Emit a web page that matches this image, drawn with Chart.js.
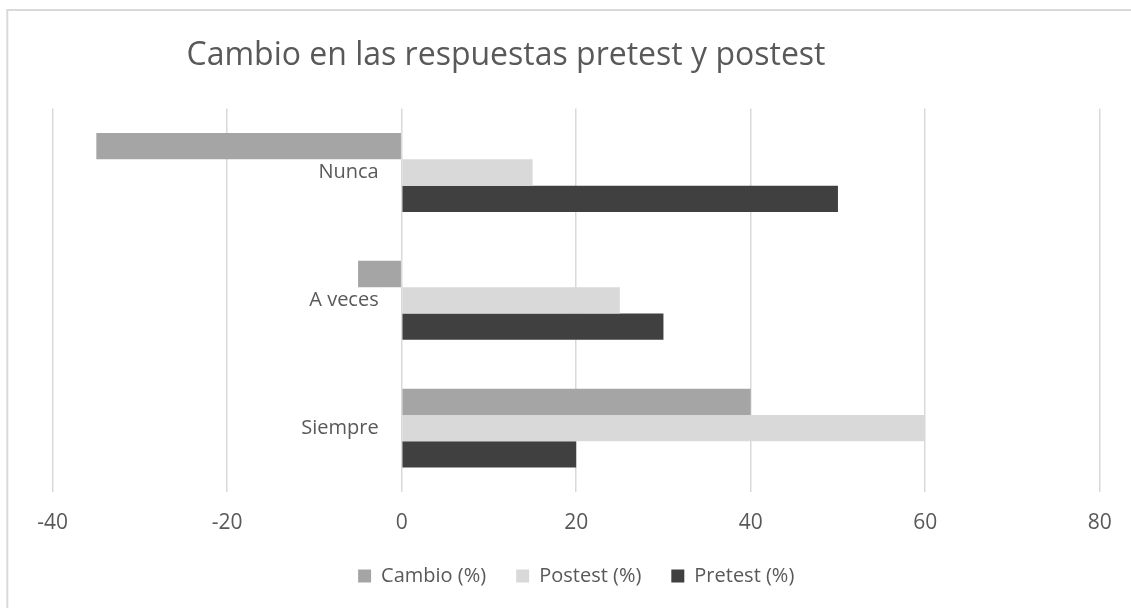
<!DOCTYPE html>
<html>
<head>
<meta charset="utf-8">
<script src="https://cdn.jsdelivr.net/npm/chart.js@4"></script>
<style>
  html, body { margin: 0; padding: 0; background: #fff; overflow: hidden; }
  canvas { display: block; }
</style>
</head>
<body>
<canvas id="chart" width="1131" height="608"></canvas>
<script>
// chart data
const chartTitle = "Cambio en las respuestas pretest y postest";
const categories = ["Nunca", "A veces", "Siempre"];
const cambio = [-35, -5, 40];
const postest = [15, 25, 60];
const pretest = [50, 30, 20];
const seriesNames = ["Cambio (%)", "Postest (%)", "Pretest (%)"];
const seriesColors = ["#A5A5A5", "#D9D9D9", "#404040"];
const xMin = -40, xMax = 80, xStep = 20;

const textColor = "#595959";
const fontFamily = "'Open Sans', sans-serif";

// border, title and category labels next to the zero line (Excel style)
const excelLook = {
    id: "excelLook",
    beforeDraw(chart) {
        const ctx = chart.ctx;
        ctx.save();
        ctx.strokeStyle = "#d9d9d9";
        ctx.lineWidth = 2;
        ctx.strokeRect(7.3, 10, 1300, 800);
        ctx.restore();
    },
    afterDatasetsDraw(chart) {
        const ctx = chart.ctx;
        const xs = chart.scales.x;
        const ys = chart.scales.y;
        ctx.save();
        ctx.fillStyle = textColor;
        ctx.font = "32px " + fontFamily;
        ctx.textAlign = "center";
        ctx.textBaseline = "alphabetic";
        ctx.fillText(chartTitle, 506, 65);

        ctx.font = "20px " + fontFamily;
        ctx.textAlign = "right";
        ctx.textBaseline = "middle";
        const zeroX = xs.getPixelForValue(0);
        categories.forEach((cat, i) => {
            ctx.fillText(cat, zeroX - 23, ys.getPixelForValue(i));
        });
        ctx.restore();
    }
};

const ctx = document.getElementById("chart").getContext("2d");
new Chart(ctx, {
    type: "bar",
    data: {
        labels: categories,
        datasets: [cambio, postest, pretest].map((values, i) => ({
            label: seriesNames[i],
            data: values,
            backgroundColor: seriesColors[i],
            borderWidth: 0,
            categoryPercentage: 0.617,
            barPercentage: 1
        }))
    },
    options: {
        indexAxis: "y",
        responsive: false,
        animation: false,
        layout: {
            padding: { left: 52.7, right: 31.3, top: 108.6, bottom: 12 }
        },
        scales: {
            x: {
                min: xMin,
                max: xMax,
                ticks: {
                    stepSize: xStep,
                    padding: 18,
                    color: textColor,
                    font: { family: fontFamily, size: 21 }
                },
                grid: { color: "#d9d9d9", lineWidth: 1.5, drawTicks: false },
                border: { display: false },
                afterFit: (scale) => { scale.height = 44; }
            },
            y: {
                display: false
            }
        },
        plugins: {
            legend: {
                position: "bottom",
                labels: {
                    boxWidth: 13,
                    boxHeight: 13,
                    padding: 30,
                    color: textColor,
                    font: { family: fontFamily, size: 20 }
                }
            },
            title: { display: false },
            tooltip: { enabled: false }
        }
    },
    plugins: [excelLook]
});
</script>
</body>
</html>
